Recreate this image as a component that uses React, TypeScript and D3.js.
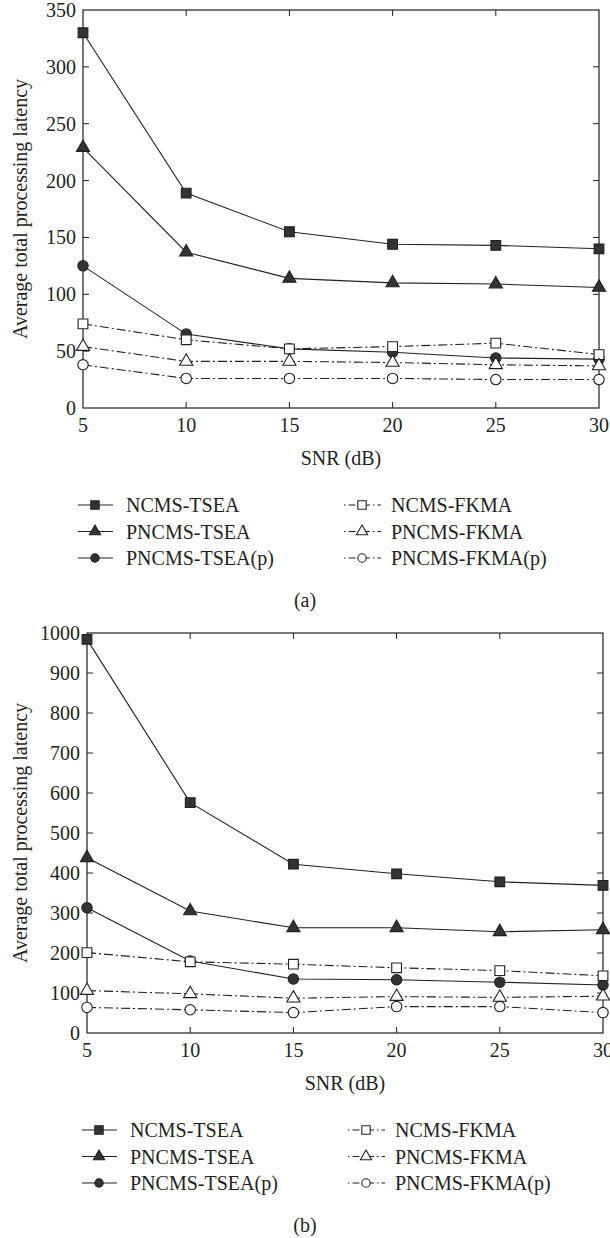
import React, { useEffect, useRef } from 'react';
import * as d3 from 'd3';

// x values shared by both panels
const snr = [5, 10, 15, 20, 25, 30];
const seriesNames = ['NCMS-TSEA', 'PNCMS-TSEA', 'PNCMS-TSEA(p)', 'NCMS-FKMA', 'PNCMS-FKMA', 'PNCMS-FKMA(p)'];

// panel (a)
const ncmsTseaA = [330, 189, 155, 144, 143, 140];
const pncmsTseaA = [229, 137, 114, 110, 109, 106];
const pncmsTseaPA = [125, 65, 52, 49, 44, 43];
const ncmsFkmaA = [74, 60, 52, 54, 57, 47];
const pncmsFkmaA = [54, 41, 41, 40, 38, 37];
const pncmsFkmaPA = [38, 26, 26, 26, 25, 25];
const yTicksA = [0, 50, 100, 150, 200, 250, 300, 350];

// panel (b)
const ncmsTseaB = [984, 576, 422, 398, 378, 369];
const pncmsTseaB = [438, 305, 263, 263, 253, 258];
const pncmsTseaPB = [313, 180, 135, 133, 127, 120];
const ncmsFkmaB = [201, 178, 172, 163, 156, 143];
const pncmsFkmaB = [106, 98, 87, 91, 89, 92];
const pncmsFkmaPB = [64, 58, 51, 66, 66, 51];
const yTicksB = [0, 100, 200, 300, 400, 500, 600, 700, 800, 900, 1000];

const INK = '#231f20';
const FONT = '"Liberation Serif", "DejaVu Serif", serif';
const DASHDOT = '9,3,2,3';

const symbols = [d3.symbolSquare, d3.symbolTriangle, d3.symbolCircle];
const symbolSize = [95, 75, 85];
const legendSize = [70, 55, 55];

const drawPanel = (svg, cfg) => {
  const { series, yMax, yTicks, x0, x1, yTop, yBottom, caption } = cfg;
  const x = d3.scaleLinear().domain([5, 30]).range([x0, x1]);
  const y = d3.scaleLinear().domain([0, yMax]).range([yBottom, yTop]);
  const g = svg.append('g');

  // frame
  g.append('rect')
    .attr('x', x0).attr('y', yTop)
    .attr('width', x1 - x0).attr('height', yBottom - yTop)
    .attr('fill', 'none').attr('stroke', INK).attr('stroke-width', 1.2);

  // inward ticks on all four sides
  const tl = 6;
  snr.slice(1, -1).forEach((v) => {
    g.append('line').attr('x1', x(v)).attr('x2', x(v)).attr('y1', yBottom).attr('y2', yBottom - tl).attr('stroke', INK);
    g.append('line').attr('x1', x(v)).attr('x2', x(v)).attr('y1', yTop).attr('y2', yTop + tl).attr('stroke', INK);
  });
  yTicks.slice(1, -1).forEach((v) => {
    g.append('line').attr('x1', x0).attr('x2', x0 + tl).attr('y1', y(v)).attr('y2', y(v)).attr('stroke', INK);
    g.append('line').attr('x1', x1).attr('x2', x1 - tl).attr('y1', y(v)).attr('y2', y(v)).attr('stroke', INK);
  });

  const text = (tx, ty, s, anchor = 'middle') =>
    g.append('text')
      .attr('x', tx).attr('y', ty)
      .attr('text-anchor', anchor)
      .attr('dominant-baseline', 'central')
      .attr('font-family', FONT).attr('font-size', 20).attr('fill', INK)
      .text(s);

  snr.forEach((v) => text(x(v), yBottom + 17, String(v)));
  yTicks.forEach((v) => text(x0 - 7, y(v), String(v), 'end'));
  text((x0 + x1) / 2, yBottom + 50, 'SNR (dB)');
  text(20, (yTop + yBottom) / 2, 'Average total processing latency')
    .attr('transform', `rotate(-90, 20, ${(yTop + yBottom) / 2})`);
  text(305, yBottom + 192, caption);

  const line = d3.line().x((d) => x(d[0])).y((d) => y(d[1]));

  series.forEach((vals, i) => {
    const dashed = i >= 3;
    const pts = snr.map((s, k) => [s, vals[k]]);
    g.append('path')
      .attr('d', line(pts))
      .attr('fill', 'none').attr('stroke', INK).attr('stroke-width', 1.1)
      .attr('stroke-dasharray', dashed ? DASHDOT : null);
    const sym = d3.symbol().type(symbols[i % 3]).size(symbolSize[i % 3]);
    g.selectAll(null).data(pts).enter().append('path')
      .attr('d', sym)
      .attr('transform', (d) => `translate(${x(d[0])},${y(d[1])})`)
      .attr('fill', dashed ? '#fff' : '#333')
      .attr('stroke', INK).attr('stroke-width', 1.1);
  });

  // legend
  seriesNames.forEach((name, i) => {
    const col = i < 3 ? 0 : 1;
    const row = i % 3;
    const ly = yBottom + 97 + row * 26.5;
    const la = col === 0 ? x0 - 5 : x0 + 261;
    const lb = col === 0 ? x0 + 30 : x0 + 298;
    const mx = col === 0 ? x0 + 12 : x0 + 279;
    const tx = col === 0 ? x0 + 43 : x0 + 308;
    g.append('line')
      .attr('x1', la).attr('x2', lb).attr('y1', ly).attr('y2', ly)
      .attr('stroke', INK).attr('stroke-width', 1.1)
      .attr('stroke-dasharray', col === 1 ? '1.5,3,7,3' : null);
    g.append('path')
      .attr('d', d3.symbol().type(symbols[row]).size(legendSize[row]))
      .attr('transform', `translate(${mx},${ly})`)
      .attr('fill', col === 1 ? '#fff' : '#333')
      .attr('stroke', INK).attr('stroke-width', 1.1);
    text(tx, ly, name, 'start');
  });
};

const App = () => {
  const ref = useRef(null);

  useEffect(() => {
    const svg = d3.select(ref.current);
    svg.selectAll('*').remove();

    drawPanel(svg, {
      series: [ncmsTseaA, pncmsTseaA, pncmsTseaPA, ncmsFkmaA, pncmsFkmaA, pncmsFkmaPA],
      yMax: 350, yTicks: yTicksA,
      x0: 83, x1: 599, yTop: 10, yBottom: 408,
      caption: '(a)',
    });
    drawPanel(svg, {
      series: [ncmsTseaB, pncmsTseaB, pncmsTseaPB, ncmsFkmaB, pncmsFkmaB, pncmsFkmaPB],
      yMax: 1000, yTicks: yTicksB,
      x0: 87, x1: 603, yTop: 633, yBottom: 1033,
      caption: '(b)',
    });
  }, []);

  return (
    <svg
      ref={ref}
      width={610}
      height={1238}
      style={{ position: 'absolute', left: 0, top: 0, background: '#fff' }}
    />
  );
};

export default App;
